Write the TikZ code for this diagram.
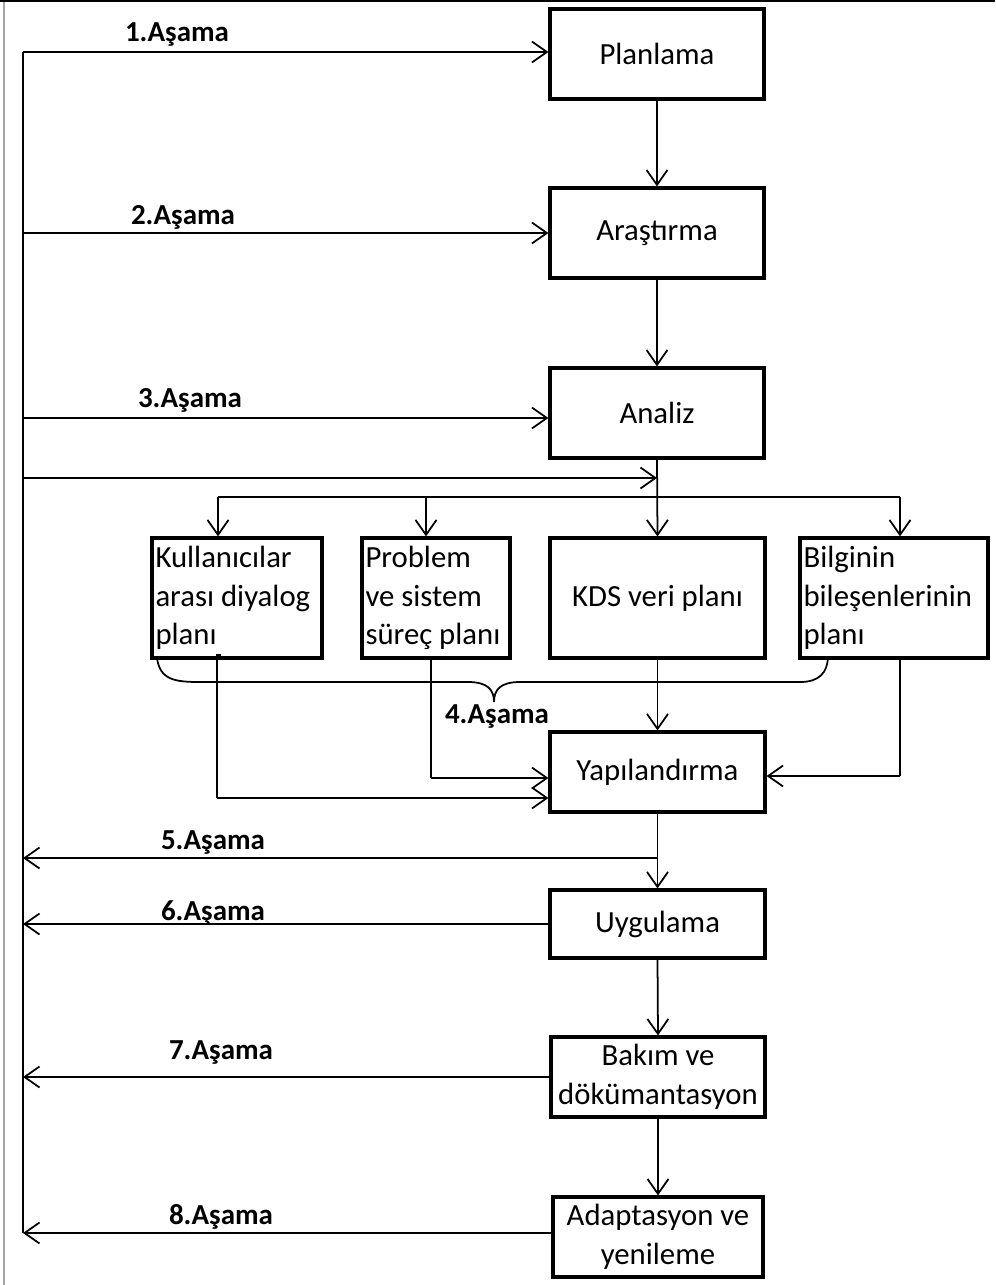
\documentclass[tikz,border=0pt]{standalone}
\usepackage{fontspec}
\setmainfont{Carlito}
\usetikzlibrary{arrows.meta}

\begin{document}
\begin{tikzpicture}[x=0.02cm, y=-0.02cm,
        box/.style={draw, line width=1.8pt, minimum width=4.28cm, minimum height=1.8cm, inner sep=2pt, align=center, font=\fontsize{17.5}{22}\selectfont},
        lbox/.style={box, minimum width=0cm, minimum height=2.4cm, align=flush left, text width=#1},
        conn/.style={line width=1pt},
        arr/.style={conn, -{Straight Barb[length=0.3cm,width=0.42cm]}},
        stage/.style={font=\fontsize{16.5}{19}\selectfont\bfseries}]

        \useasboundingbox (0,0) rectangle (995,1285);
        % page frame
        \draw[gray!70, line width=0.6pt] (4,0) -- (4,1285);
        \draw[line width=0.8pt] (0,1) -- (995,1);

        \node[box] (plan) at (657, 54) {Planlama};
        \node[box] (aras) at (657, 233) {Araştırma};
        \node[box] (anal) at (657, 413) {Analiz};
        \node[lbox=3.26cm] (kul) at (237, 598) {Kullanıcılar\\arası diyalog\\planı};
        \node[lbox=2.82cm] (prob) at (436, 598) {Problem\\ve sistem\\süreç planı};
        \node[box, minimum width=4.3cm, minimum height=2.4cm] (kds) at (657.5, 598) {KDS veri planı};
        \node[lbox=3.62cm] (bil) at (894, 598) {Bilginin\\bileşenlerinin\\planı};
        \node[box, minimum width=4.3cm, minimum height=1.6cm] (yap) at (657.5, 772) {Yapılandırma};
        \node[box, minimum width=4.3cm, minimum height=1.36cm] (uyg) at (657.5, 924) {Uygulama};
        \node[box, minimum width=4.28cm, minimum height=1.6cm] (bak) at (658, 1077) {Bakım ve\\dökümantasyon};
        \node[box, minimum width=4.2cm, minimum height=1.6cm] (ada) at (658, 1237) {Adaptasyon ve\\yenileme};

        % left return line
        \coordinate (s1) at (23, 52);
        \coordinate (s2) at (23, 233);
        \coordinate (s3) at (23, 418);
        \coordinate (s4) at (23, 478);
        \coordinate (s5) at (23, 858);
        \coordinate (s8) at (23, 1233);
        \draw[conn] (s1) -- (s8);

        \draw[arr] (s1) -- (s1 -| plan.west);
        \draw[arr] (s2) -- (s2 -| aras.west);
        \draw[arr] (s3) -- (s3 -| anal.west);
        \draw[arr] (s4) -- (s4 -| anal.south);

        \draw[arr] (plan.south) -- (aras.north);
        \draw[arr] (aras.south) -- (anal.north);
        \draw[arr] (anal.south) -- (kds.north);

        % distribution to the plans
        \coordinate (d1) at (218, 497);
        \coordinate (d2) at (426, 497);
        \coordinate (d3) at (900, 497);
        \draw[conn] (d1) -- (d3);
        \draw[arr] (d1) -- (d1 |- kul.north);
        \draw[arr] (d2) -- (d2 |- prob.north);
        \draw[arr] (d3) -- (d3 |- bil.north);

        % plans into Yapilandirma
        \coordinate (k1) at (217, 798);
        \coordinate (p1) at (431, 778);
        \coordinate (b1) at (900, 776);
        \draw[conn] (221, 655) -- (217, 655) -- (k1);
        \draw[arr] (k1) -- (k1 -| yap.west);
        \draw[conn] (p1 |- prob.south) -- (p1);
        \draw[arr] (p1) -- (p1 -| yap.west);
        \draw[arr] (kds.south) -- (yap.north);
        \draw[conn] (b1 |- bil.south) -- (b1);
        \draw[arr] (b1) -- (b1 -| yap.east);

        % brace under the plans
        \coordinate (brtip) at (494, 702);
        \draw[conn] (157, 658) .. controls (160, 680) and (175, 682) .. (200, 682)
            -- (468, 682) .. controls (488, 682) and (494, 690) .. (brtip)
            .. controls (494, 690) and (500, 682) .. (520, 682)
            -- (800, 682) .. controls (820, 682) and (827, 672) .. (828, 658);
        \node[stage] (st4) at (497, 717) {4.Aşama};

        % down the chain, back to the start
        \draw[arr] (yap.south) -- (uyg.north);
        \draw[arr] (s5 -| yap.south) -- (s5);
        \draw[arr] (uyg.west) -- (uyg.west -| s1);
        \draw[arr] (uyg.south) -- (bak.north);
        \draw[arr] (bak.west) -- (bak.west -| s1);
        \draw[arr] (bak.south) -- (ada.north);
        \draw[arr] (s8 -| ada.west) -- (s8);

        \node[stage] (st1) at (177, 35) {1.Aşama};
        \node[stage] (st2) at (183, 217) {2.Aşama};
        \node[stage] (st3) at (190, 400) {3.Aşama};
        \node[stage] (st5) at (213, 843) {5.Aşama};
        \node[stage] (st6) at (213, 913) {6.Aşama};
        \node[stage] (st7) at (221, 1053) {7.Aşama};
        \node[stage] (st8) at (221, 1217) {8.Aşama};
    \end{tikzpicture}
\end{document}
